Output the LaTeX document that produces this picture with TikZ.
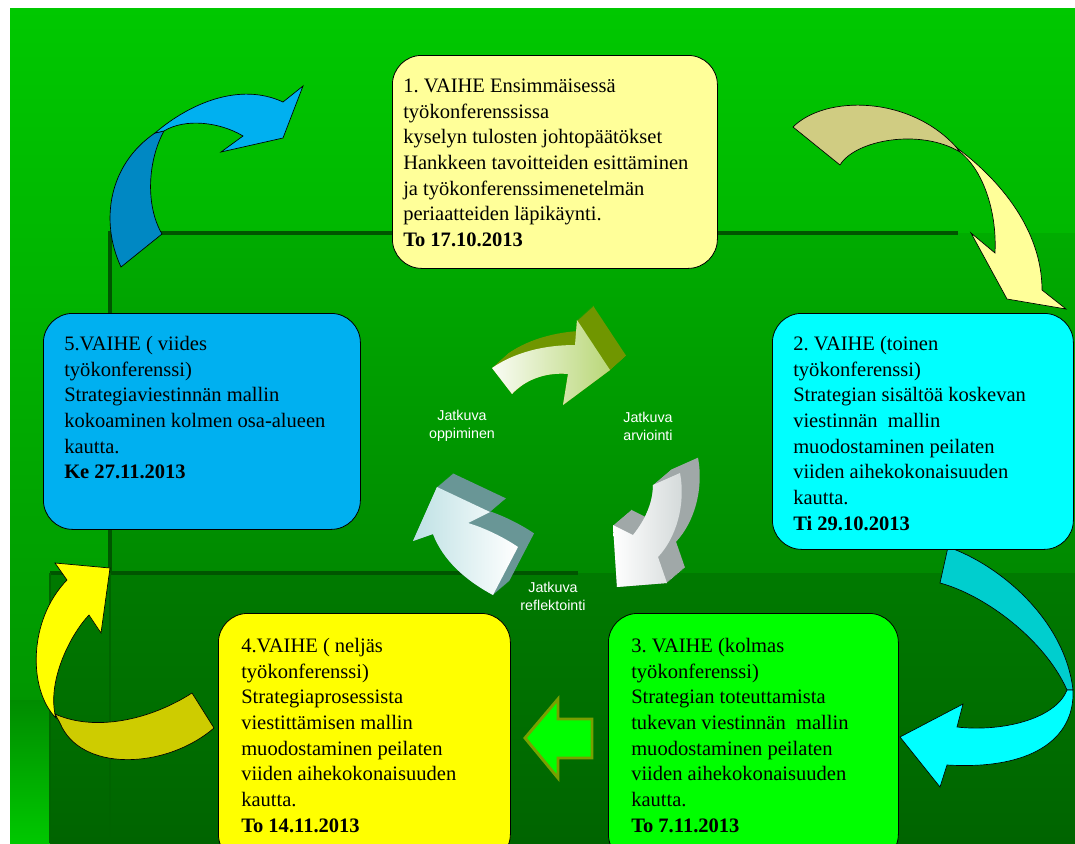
\documentclass[tikz,border=0pt]{standalone}
\usepackage{fontspec}
\setmainfont{Liberation Serif}
\newfontfamily\labelsans{Liberation Sans}
\usetikzlibrary{positioning}
\frenchspacing

\definecolor{bgTop}{RGB}{0,200,0}
\definecolor{bgLow}{RGB}{0,140,0}
\definecolor{panelTop}{RGB}{0,172,0}
\definecolor{panelLow}{RGB}{0,110,0}
\definecolor{lowTop}{RGB}{0,122,0}
\definecolor{lowLow}{RGB}{0,100,0}
\definecolor{panelEdge}{RGB}{0,85,0}
\definecolor{phaseOne}{RGB}{255,255,153}
\definecolor{phaseTwo}{RGB}{0,255,255}
\definecolor{phaseThree}{RGB}{0,255,0}
\definecolor{phaseFour}{RGB}{255,255,0}
\definecolor{phaseFive}{RGB}{0,176,240}
\definecolor{blueBack}{RGB}{0,136,195}
\definecolor{tanBack}{RGB}{208,204,130}
\definecolor{cyanBack}{RGB}{0,206,206}
\definecolor{oliveBack}{RGB}{206,204,0}
\definecolor{stepEdge}{RGB}{120,160,0}
\definecolor{topSide}{RGB}{112,150,0}
\definecolor{topFace}{RGB}{185,215,120}
\definecolor{rightSide}{RGB}{160,168,168}
\definecolor{rightFace}{RGB}{210,216,216}
\definecolor{leftSide}{RGB}{105,150,150}
\definecolor{leftFace}{RGB}{190,225,228}

% front faces of the three small cycle arrows
\newcommand{\cycTop}{(492,368) .. controls (515,352) and (545,345) .. (575,345) -- (577,320) -- (610,370) -- (563,405) -- (568,374) .. controls (545,372) and (525,380) .. (512,394) -- cycle}
\newcommand{\cycRight}{(653,485) -- (680,473) .. controls (686,505) and (676,538) .. (658,557) -- (667,583) -- (617,587) -- (613,525) -- (633,535) .. controls (645,520) and (653,503) .. (653,485) -- cycle}
\newcommand{\cycLeft}{(437,487) -- (490,512) -- (468,523) .. controls (485,528) and (505,538) .. (518,547) -- (493,595) .. controls (465,580) and (443,560) .. (433,534) -- (413,541) -- cycle}

\begin{document}
\begin{tikzpicture}[x=0.75pt, y=-0.75pt,
  phase/.style={draw=black, line width=0.6pt, rounded corners=22pt, anchor=north west, inner sep=0pt},
  phasetxt/.style={anchor=north west, inner sep=0pt, align=left, font=\fontsize{15.4}{19.3}\selectfont},
  cyc/.style={text=white, align=center, inner sep=0pt, font=\labelsans\fontsize{10.7}{13.5}\selectfont},
  curvy/.style={draw=black, line width=0.5pt}]
\useasboundingbox (0,0) rectangle (1075,843);
\clip (0,0) rectangle (1075,843);
% background panels
\fill[white] (0,0) rectangle (1075,843);
\shade[top color=bgTop, bottom color=bgLow] (10,8) rectangle (1075,843);
\shade[top color=bgLow, bottom color=bgTop] (10,700) rectangle (50,843);
\shade[top color=panelTop, bottom color=panelLow] (110,233) rectangle (1075,843);
\draw[panelEdge, line width=3pt] (110,573) -- (110,233) -- (958,233);
\shade[top color=lowTop, bottom color=lowLow] (50,573) rectangle (1075,843);
\draw[panelEdge, line width=3pt] (50,573) -- (578,573);
\draw[panelEdge!60!lowTop, line width=2pt] (50,573) -- (50,843) (110,573) -- (110,843);

% big curved arrows between the phases
\fill[blueBack, curvy] (121,267) .. controls (100,222) and (108,165) .. (155,133) -- (164,131) .. controls (148,160) and (145,205) .. (162,234) -- cycle;
\fill[phaseFive, curvy] (155,133) .. controls (190,103) and (240,82) .. (283,102) -- (303,86) -- (283,138) -- (221,152) -- (243,136) .. controls (220,122) and (185,118) .. (164,131) -- cycle;
\fill[tanBack, curvy] (793,127) .. controls (825,95) and (910,95) .. (957,148) -- (960,152) .. controls (920,128) and (855,140) .. (840,165) -- cycle;
\fill[phaseOne, curvy] (957,148) .. controls (1000,180) and (1042,230) .. (1042,290) -- (1066,309) -- (1007,299) -- (971,233) -- (995,253) .. controls (997,215) and (985,172) .. (960,152) -- cycle;
\fill[cyanBack, curvy] (948,547) .. controls (1000,565) and (1065,620) .. (1073,690) -- (1067,690) .. controls (1045,640) and (985,595) .. (940,583) -- cycle;
\fill[phaseTwo, curvy] (1073,690) .. controls (1075,740) and (1030,770) .. (947,765) -- (940,787) -- (900,737) -- (963,704) -- (957,727) .. controls (1000,732) and (1055,720) .. (1067,690) -- cycle;
\fill[phaseFour, curvy] (56,718) .. controls (28,690) and (28,620) .. (67,580) -- (55,563) -- (110,568) -- (101,633) -- (89,615) .. controls (70,635) and (48,680) .. (55,714) -- cycle;
\fill[oliveBack, curvy] (192,693) .. controls (150,720) and (95,732) .. (55,714) -- (60,723) .. controls (80,772) and (165,770) .. (214,728) -- cycle;
\filldraw[fill=phaseThree, draw=stepEdge, line width=2.2pt, line join=miter] (525,738) -- (558,699) -- (558,719) -- (592,719) -- (592,758) -- (558,758) -- (558,778) -- cycle;

% small 3d cycle in the middle
\foreach \k in {0,...,16}
  \fill[topSide, shift={(\k,-\k*0.9)}] \cycTop;
\shade[left color=white!92!topFace, right color=topFace] \cycTop;
\foreach \k in {0,...,18}
  \fill[rightSide, shift={(\k,-\k*0.85)}] \cycRight;
\shade[left color=white, right color=rightFace] \cycRight;
\foreach \k in {0,...,16}
  \fill[leftSide, shift={(\k,-\k*0.85)}] \cycLeft;
\shade[left color=leftFace, right color=white] \cycLeft;

\node[cyc] (lblOpp) at (462,426) {Jatkuva\\oppiminen};
\node[cyc] (lblArv) at (648,426) {Jatkuva\\arviointi};
\node[cyc] (lblRef) at (553,596) {Jatkuva\\reflektointi};

% the five phases
\node[phase, fill=phaseOne, minimum width=243.75pt, minimum height=159.75pt] (v1) at (392,55) {};
\node[phase, fill=phaseTwo, minimum width=225.75pt, minimum height=177pt] (v2) at (772,313) {};
\node[phase, fill=phaseThree, minimum width=217.5pt, minimum height=187.5pt] (v3) at (608,613) {};
\node[phase, fill=phaseFour, minimum width=219pt, minimum height=187.5pt] (v4) at (218,613) {};
\node[phase, fill=phaseFive, minimum width=237.75pt, minimum height=162pt] (v5) at (43,313) {};

\node[phasetxt] (v1txt) at ([shift={(11,19)}]v1.north west) {\strut 1. VAIHE Ensimmäisessä\\työkonferenssissa\\kyselyn tulosten johtopäätökset\\Hankkeen tavoitteiden esittäminen\\ja työkonferenssimenetelmän\\periaatteiden läpikäynti.\\\textbf{To 17.10.2013}};
\node[phasetxt] (v2txt) at ([shift={(21,19)}]v2.north west) {\strut 2. VAIHE (toinen\\työkonferenssi)\\Strategian sisältöä koskevan\\viestinnän\ \ mallin\\muodostaminen peilaten\\viiden aihekokonaisuuden\\kautta.\\\textbf{Ti 29.10.2013}};
\node[phasetxt] (v3txt) at ([shift={(23,21)}]v3.north west) {\strut 3. VAIHE (kolmas\\työkonferenssi)\\Strategian toteuttamista\\tukevan viestinnän\ \ mallin\\muodostaminen peilaten\\viiden aihekokonaisuuden\\kautta.\\\textbf{To 7.11.2013}};
\node[phasetxt] (v4txt) at ([shift={(23,21)}]v4.north west) {\strut 4.VAIHE ( neljäs\\työkonferenssi)\\Strategiaprosessista\\viestittämisen mallin\\muodostaminen peilaten\\viiden aihekokonaisuuden\\kautta.\\\textbf{To 14.11.2013}};
\node[phasetxt] (v5txt) at ([shift={(21,19)}]v5.north west) {\strut 5.VAIHE ( viides\\työkonferenssi)\\Strategiaviestinnän mallin\\kokoaminen kolmen osa-alueen\\kautta.\\\textbf{Ke 27.11.2013}};
\end{tikzpicture}
\end{document}
